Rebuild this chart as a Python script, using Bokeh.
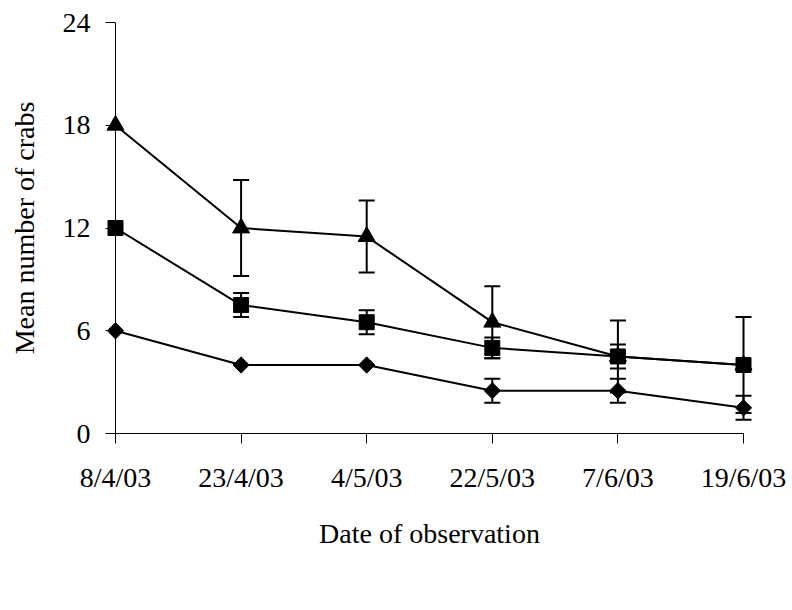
from bokeh.plotting import figure
from bokeh.models import (Range1d, FixedTicker, Span, Whisker, TeeHead,
                          ColumnDataSource, Legend, LegendItem)
from bokeh.embed import file_html
from bokeh.resources import INLINE
import numpy as np

dates = ["8/4/03", "23/4/03", "4/5/03", "22/5/03", "7/6/03", "19/6/03"]
cage1 = [6, 4, 4, 2.5, 2.5, 1.5]
cage1_err = [0, 0, 0, 0.7, 0.7, 0.7]
cage2 = [12, 7.5, 6.5, 5, 4.5, 4]
cage2_err = [0, 0.7, 0.7, 0.6, 0.7, 0]
cage3 = [18, 12, 11.5, 6.5, 4.5, 4]
cage3_err = [0, 2.8, 2.1, 2.1, 2.1, 2.8]
y_ticks = [0, 6, 12, 18, 24]
series_names = ["Cage 1", "Cage 2", "Cage 3"]

FONT = "Liberation Serif"
FS = "28px"

xs = list(range(len(dates)))
pad = 0.0796

p = figure(frame_width=648, frame_height=411,
           x_range=Range1d(-pad, xs[-1] + pad), y_range=Range1d(y_ticks[0], y_ticks[-1]),
           output_backend="svg", toolbar_location=None,
           min_border_left=105, min_border_right=39,
           min_border_top=22, min_border_bottom=177)
p.outline_line_color = None
p.grid.visible = False
p.background_fill_color = "white"
p.border_fill_color = "white"

# x axis
xa = p.xaxis[0]
xa.ticker = FixedTicker(ticks=xs)
xa.major_label_overrides = {i: d for i, d in enumerate(dates)}
xa.bounds = (xs[0], xs[-1])
xa.minor_tick_line_color = None
xa.major_tick_in = 0
xa.major_tick_out = 10
xa.axis_line_color = "black"
xa.major_tick_line_color = "black"
xa.major_label_text_font = FONT
xa.major_label_text_font_size = FS
xa.major_label_text_color = "black"
xa.major_label_standoff = 18
xa.axis_label = "Date of observation"
xa.axis_label_text_font = FONT
xa.axis_label_text_font_size = FS
xa.axis_label_text_font_style = "normal"
xa.axis_label_text_color = "black"
xa.axis_label_standoff = 22

# y axis
ya = p.yaxis[0]
ya.ticker = FixedTicker(ticks=y_ticks)
ya.minor_tick_line_color = None
ya.axis_line_color = None
ya.major_tick_in = 10
ya.major_tick_out = 0
ya.major_tick_line_color = "black"
ya.major_label_text_font = FONT
ya.major_label_text_font_size = FS
ya.major_label_text_color = "black"
ya.major_label_standoff = 15
ya.axis_label = "Mean number of crabs"
ya.axis_label_text_font = FONT
ya.axis_label_text_font_size = FS
ya.axis_label_text_font_style = "normal"
ya.axis_label_text_color = "black"
ya.axis_label_standoff = 20

p.add_layout(Span(location=xs[0], dimension="height", line_color="black", line_width=1))

series = [(cage1, cage1_err, "diamond"), (cage2, cage2_err, "square"), (cage3, cage3_err, "triangle")]
items = []
for (vals, errs, mk), name in zip(series, series_names):
    src = ColumnDataSource(dict(x=xs, y=vals))
    ex = [x for x, e in zip(xs, errs) if e > 0]
    ey = [v for v, e in zip(vals, errs) if e > 0]
    ee = [e for e in errs if e > 0]
    wsrc = ColumnDataSource(dict(x=ex, upper=[a + b for a, b in zip(ey, ee)],
                                 lower=[a - b for a, b in zip(ey, ee)]))
    line = p.line("x", "y", source=src, line_color="black", line_width=2)
    w = Whisker(source=wsrc, base="x", upper="upper", lower="lower",
                line_color="black", line_width=2,
                upper_head=TeeHead(size=16, line_width=2, line_color="black"),
                lower_head=TeeHead(size=16, line_width=2, line_color="black"))
    p.add_layout(w)
    if mk == "diamond":
        sc = p.scatter("x", "y", source=src, marker="square", angle=np.pi / 4,
                       size=11.5, fill_color="black", line_color="black")
    elif mk == "square":
        sc = p.scatter("x", "y", source=src, marker="square", size=15,
                       fill_color="black", line_color="black")
    else:
        sc = p.scatter("x", "y", source=src, marker="triangle", size=17,
                       fill_color="black", line_color="black")
    items.append(LegendItem(label=name, renderers=[line, sc]))

legend = Legend(items=items, orientation="horizontal", location="center",
                glyph_width=55, glyph_height=20, label_standoff=8, spacing=17,
                padding=0, margin=10, border_line_color=None,
                background_fill_alpha=0,
                label_text_font=FONT, label_text_font_size=FS,
                label_text_color="black")
p.add_layout(legend, "below")

open("out.html", "w").write(file_html(p, INLINE))
